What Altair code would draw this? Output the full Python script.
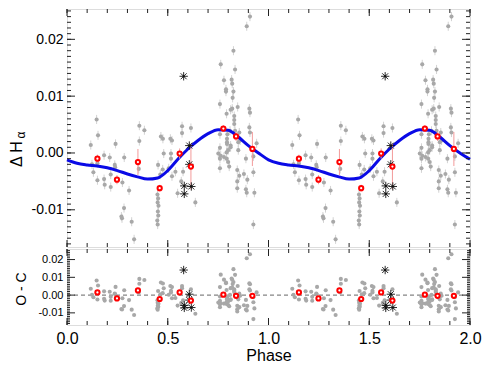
import altair as alt
import pandas as pd

FONT = "Liberation Sans"

# ---------------- data (phase 0-1, repeated at phase+1) ----------------
g_phase = [0.147, 0.154, 0.118, 0.241, 0.184, 0.212, 0.284, 0.124, 0.151, 0.237,
           0.239, 0.131, 0.217, 0.151, 0.184, 0.187, 0.217, 0.275, 0.308, 0.283,
           0.270, 0.273, 0.321, 0.333, 0.359, 0.384, 0.359, 0.356, 0.452, 0.466,
           0.476, 0.480, 0.475, 0.463, 0.449, 0.452, 0.450, 0.454, 0.451, 0.453,
           0.448, 0.450, 0.513, 0.521, 0.516, 0.516, 0.505, 0.538, 0.521, 0.571,
           0.571, 0.615, 0.576, 0.567, 0.549, 0.637,
           0.908, 0.892, 0.826, 0.763, 0.834, 0.779, 0.817, 0.820, 0.789, 0.789,
           0.826, 0.822, 0.759, 0.820, 0.812, 0.847, 0.905, 0.908, 0.792, 0.830,
           0.830, 0.830, 0.759, 0.796, 0.809, 0.834, 0.855, 0.905, 0.908, 0.794,
           0.794, 0.794, 0.812, 0.812, 0.850, 0.859, 0.759, 0.800, 0.792, 0.941,
           0.751, 0.763, 0.759, 0.779, 0.792, 0.800, 0.850, 0.888, 0.925, 0.759,
           0.805, 0.845, 0.878, 0.925, 0.855, 0.845, 0.895, 0.845, 0.888, 0.892,
           0.930, 0.925]
g_val = [0.0059, 0.0031, 0.0014, 0.0016, -0.0004, -0.0008, -0.0008, -0.0020, -0.0018, -0.0021,
         -0.0025, -0.0034, -0.0038, -0.0048, -0.0046, -0.0056, -0.0060, -0.0052, -0.0066, -0.0097,
         -0.0112, -0.0115, -0.0121, -0.0152, 0.0048, 0.0040, 0.0021, -0.0028, -0.0021, 0.0029,
         0.0025, -0.0001, -0.0029, -0.0038, -0.0073, -0.0080, -0.0087, -0.0093, -0.0103, -0.0110,
         -0.0119, -0.0126, 0.0025, 0.0022, -0.0001, -0.0010, -0.0027, -0.0033, -0.0041, 0.0047,
         0.0035, 0.0044, -0.0033, -0.0050, -0.0071, -0.0087,
         0.0240, 0.0223, 0.0180, 0.0156, 0.0147, 0.0128, 0.0129, 0.0122, 0.0112, 0.0108,
         0.0108, 0.0097, 0.0086, 0.0078, 0.0076, 0.0081, 0.0078, 0.0071, 0.0069, 0.0065,
         0.0058, 0.0051, 0.0033, 0.0033, 0.0039, 0.0039, 0.0036, 0.0045, 0.0036, 0.0025,
         0.0019, 0.0016, 0.0013, 0.0010, 0.0019, 0.0022, 0.0009, 0.0005, 0.0001, 0.0017,
         -0.0001, -0.0005, -0.0010, -0.0007, -0.0010, -0.0016, 0.0005, -0.0010, -0.0006, -0.0027,
         -0.0024, -0.0030, -0.0037, -0.0034, -0.0040, -0.0050, -0.0047, -0.0062, -0.0064, -0.0070,
         -0.0070, -0.0126]
g_oc = [0.0082, 0.0054, 0.0036, 0.0046, 0.0021, 0.0019, 0.0027, 0.0002, 0.0005, 0.0009,
        0.0005, -0.0012, -0.0010, -0.0025, -0.0021, -0.0031, -0.0032, -0.0018, -0.0028, -0.0062,
        -0.0078, -0.0081, -0.0082, -0.0112, 0.0091, 0.0085, 0.0064, 0.0015, 0.0023, 0.0071,
        0.0065, 0.0038, 0.0011, 0.0004, -0.0029, -0.0036, -0.0043, -0.0049, -0.0059, -0.0066,
        -0.0075, -0.0082, 0.0051, 0.0045, 0.0024, 0.0015, 0.0002, -0.0016, -0.0018, 0.0051,
        0.0039, 0.0033, -0.0030, -0.0044, -0.0059, -0.0105,
        0.0230, 0.0207, 0.0146, 0.0115, 0.0114, 0.0087, 0.0093, 0.0086, 0.0071, 0.0067,
        0.0074, 0.0062, 0.0045, 0.0043, 0.0039, 0.0051, 0.0066, 0.0061, 0.0029, 0.0032,
        0.0025, 0.0018, -0.0008, -0.0007, 0.0001, 0.0006, 0.0008, 0.0033, 0.0026, -0.0015,
        -0.0021, -0.0024, -0.0024, -0.0027, -0.0010, -0.0004, -0.0032, -0.0035, -0.0039, 0.0015,
        -0.0042, -0.0046, -0.0051, -0.0048, -0.0050, -0.0056, -0.0024, -0.0027, -0.0012, -0.0068,
        -0.0063, -0.0060, -0.0057, -0.0040, -0.0068, -0.0080, -0.0061, -0.0092, -0.0081, -0.0086,
        -0.0075, -0.0135]

r_phase = [0.151, 0.248, 0.352, 0.460, 0.559, 0.615, 0.776, 0.839, 0.920]
r_val = [-0.0010, -0.0047, -0.0016, -0.0062, -0.0001, -0.0024, 0.0043, 0.0029, 0.0007]
r_err = [0.0007, 0.0008, 0.0023, 0.0006, 0.0009, 0.0040, 0.0006, 0.0008, 0.0030]
r_oc = [0.0015, -0.0019, 0.0026, -0.0022, 0.0015, -0.0031, 0.0002, -0.0004, -0.0004]

s_phase = [0.579, 0.607, 0.607, 0.582, 0.617, 0.582]
s_val = [0.0135, 0.0013, -0.0020, -0.0058, -0.0059, -0.0072]
s_oc = [0.0141, 0.0005, -0.0028, -0.0058, -0.0070, -0.0072]

c_phase = [0.00, 0.05, 0.10, 0.15, 0.20, 0.25, 0.30, 0.35, 0.40, 0.45, 0.50,
           0.55, 0.60, 0.65, 0.70, 0.75, 0.80, 0.85, 0.90, 0.95]
c_val = [-0.0012, -0.0018, -0.0021, -0.0023, -0.0026, -0.0031, -0.0037, -0.0042, -0.0046,
         -0.0044, -0.0031, -0.0011, 0.0007, 0.0022, 0.0034, 0.0041, 0.0040, 0.0028, 0.0013, 0.0000]
c_end = (2.0, -0.0011)

GRAY_ERR = 0.0008

x_major = [0.0, 0.5, 1.0, 1.5, 2.0]
x_minor = [i / 10 for i in range(21)]
y_major = [-0.01, 0.0, 0.01, 0.02]
y_minor = [i / 1000 for i in range(-16, 26)]

# ---------------- tables ----------------
def two_cycles(df):
    d2 = df.copy()
    d2["phase"] = d2["phase"] + 1
    return pd.concat([df, d2], ignore_index=True)

gray = two_cycles(pd.DataFrame({"phase": g_phase, "val": g_val, "oc": g_oc}))
gray["lo"] = gray["val"] - GRAY_ERR
gray["hi"] = gray["val"] + GRAY_ERR
red = two_cycles(pd.DataFrame({"phase": r_phase, "val": r_val, "err": r_err, "oc": r_oc}))
red["lo"] = red["val"] - red["err"]
red["hi"] = red["val"] + red["err"]
star = two_cycles(pd.DataFrame({"phase": s_phase, "val": s_val, "oc": s_oc}))
curve = two_cycles(pd.DataFrame({"phase": c_phase, "val": c_val}))
curve = pd.concat([curve, pd.DataFrame({"phase": [c_end[0]], "val": [c_end[1]]})], ignore_index=True)

W, H1, H2 = 403, 238, 76
INK = "#222222"

xs = alt.Scale(domain=[0, 2], nice=False, zero=False)
y1s = alt.Scale(domain=[-0.01655, 0.02534], nice=False, zero=False)
y2s = alt.Scale(domain=[-0.01683, 0.02594], nice=False, zero=False)

lab_expr = "datum.value < 0 ? '-' + format(-datum.value, '.2f') : format(datum.value, '.2f')"

x_axis_top = None
x_axis_bot = alt.Axis(values=x_major, format=".1f", ticks=False, domain=False, grid=False,
                      labelFlush=False, labelOverlap=False,
                      labelFontSize=16, labelFont=FONT, labelColor="#000", labelPadding=5,
                      title="Phase", titleFontSize=16, titleFont=FONT, titleFontWeight="normal",
                      titleColor="#000", titlePadding=1)
y_axis_top = alt.Axis(values=y_major, labelExpr=lab_expr, ticks=False, domain=False, grid=False,
                      labelFlush=False, labelOverlap=False,
                      labelFontSize=14, labelFont=FONT, labelColor="#000", labelPadding=4, title=None)
y_axis_bot = alt.Axis(values=y_major, labelExpr=lab_expr, ticks=False, domain=False, grid=False,
                      labelFlush=False, labelOverlap=False,
                      labelFontSize=11, labelFont=FONT, labelColor="#000", labelPadding=4, title=None)


def X(field, axis):
    return alt.X(field, type="quantitative", scale=xs, axis=axis)


def Y(field, scale, axis):
    return alt.Y(field, type="quantitative", scale=scale, axis=axis)


STAR = "M-1,0L1,0M0,-1L0,1M-0.71,-0.71L0.71,0.71M-0.71,0.71L0.71,-0.71"


def tick_layers(xaxis, yscale, yaxis, H, ymaj_len, ymin_len):
    xt_min = pd.DataFrame({"phase": x_minor})
    xt_maj = pd.DataFrame({"phase": x_major})
    yt_min = pd.DataFrame({"v": [v for v in y_minor if yscale.domain[0] <= v <= yscale.domain[1]]})
    yt_maj = pd.DataFrame({"v": y_major})
    L = []
    for df, ln in ((xt_min, 4), (xt_maj, 7)):
        L.append(alt.Chart(df).mark_rule(color=INK, strokeWidth=1).encode(
            x=X("phase", xaxis), y=alt.value(H), y2=alt.value(H - ln)))
        L.append(alt.Chart(df).mark_rule(color=INK, strokeWidth=1).encode(
            x=X("phase", xaxis), y=alt.value(0), y2=alt.value(ln)))
    for df, ln in ((yt_min, ymin_len), (yt_maj, ymaj_len)):
        L.append(alt.Chart(df).mark_rule(color=INK, strokeWidth=1).encode(
            y=Y("v", yscale, yaxis), x=alt.value(0), x2=alt.value(ln)))
        L.append(alt.Chart(df).mark_rule(color=INK, strokeWidth=1).encode(
            y=Y("v", yscale, yaxis), x=alt.value(W), x2=alt.value(W - ln)))
    return L


RED_RING = dict(shape="circle", size=18, filled=True, fill="white", stroke="#ff0000",
                strokeWidth=2, opacity=1, fillOpacity=1)

# ---------------- top panel ----------------
top_layers = [
    alt.Chart(gray).mark_rule(color="#d2d2d2", strokeWidth=1).encode(
        x=X("phase", x_axis_top), y=Y("lo", y1s, y_axis_top), y2="hi"),
    alt.Chart(gray).mark_circle(color="#a8a8a8", size=17, opacity=1).encode(
        x=X("phase", x_axis_top), y=Y("val", y1s, y_axis_top)),
    alt.Chart(curve).mark_line(color="#0a0ae6", strokeWidth=3, interpolate="monotone").encode(
        x=X("phase", x_axis_top), y=Y("val", y1s, y_axis_top)),
    alt.Chart(red).mark_rule(color="#f39a9a", strokeWidth=1).encode(
        x=X("phase", x_axis_top), y=Y("lo", y1s, y_axis_top), y2="hi"),
    alt.Chart(star).mark_point(shape=STAR, size=70, stroke="#111", strokeWidth=0.9, filled=False, opacity=1).encode(
        x=X("phase", x_axis_top), y=Y("val", y1s, y_axis_top)),
    alt.Chart(star).mark_circle(color="#111", size=5, opacity=1).encode(
        x=X("phase", x_axis_top), y=Y("val", y1s, y_axis_top)),
    alt.Chart(red).mark_point(**RED_RING).encode(
        x=X("phase", x_axis_top), y=Y("val", y1s, y_axis_top)),
]
top_layers += tick_layers(x_axis_top, y1s, y_axis_top, H1, 8, 4)
top_layers += [
    alt.Chart(pd.DataFrame({"t": ["\u0394 H"]})).mark_text(
        angle=270, fontSize=16, font=FONT, color="#000", align="center", baseline="middle").encode(
        text="t:N", x=alt.value(-50), y=alt.value(145)),
    alt.Chart(pd.DataFrame({"t": ["\u03b1"]})).mark_text(
        angle=270, fontSize=12, font=FONT, color="#000", align="center", baseline="middle").encode(
        text="t:N", x=alt.value(-46), y=alt.value(126)),
]
top = alt.layer(*top_layers).properties(width=W, height=H1)

# ---------------- bottom panel (O - C) ----------------
bot_layers = [
    alt.Chart(pd.DataFrame({"z": [0.0]})).mark_rule(color="#666", strokeWidth=1, strokeDash=[4, 3]).encode(
        y=Y("z", y2s, y_axis_bot)),
    alt.Chart(gray).mark_circle(color="#a8a8a8", size=17, opacity=1).encode(
        x=X("phase", x_axis_bot), y=Y("oc", y2s, y_axis_bot)),
    alt.Chart(star).mark_point(shape=STAR, size=70, stroke="#111", strokeWidth=0.9, filled=False, opacity=1).encode(
        x=X("phase", x_axis_bot), y=Y("oc", y2s, y_axis_bot)),
    alt.Chart(star).mark_circle(color="#111", size=5, opacity=1).encode(
        x=X("phase", x_axis_bot), y=Y("oc", y2s, y_axis_bot)),
    alt.Chart(red).mark_point(**RED_RING).encode(
        x=X("phase", x_axis_bot), y=Y("oc", y2s, y_axis_bot)),
]
bot_layers += tick_layers(x_axis_bot, y2s, y_axis_bot, H2, 8, 3)
bot_layers += [
    alt.Chart(pd.DataFrame({"t": ["O - C"]})).mark_text(
        angle=270, fontSize=14, font=FONT, color="#000", align="center", baseline="middle").encode(
        text="t:N", x=alt.value(-45), y=alt.value(40)),
]
bottom = alt.layer(*bot_layers).properties(width=W, height=H2)

chart = alt.vconcat(top, bottom, spacing=0).properties(
    padding={"left": 0, "top": 0, "right": 0, "bottom": 0}
).configure_view(stroke=INK, strokeWidth=1).configure(background="white")

chart.save("out.html", embed_options={"renderer": "svg", "actions": False})
